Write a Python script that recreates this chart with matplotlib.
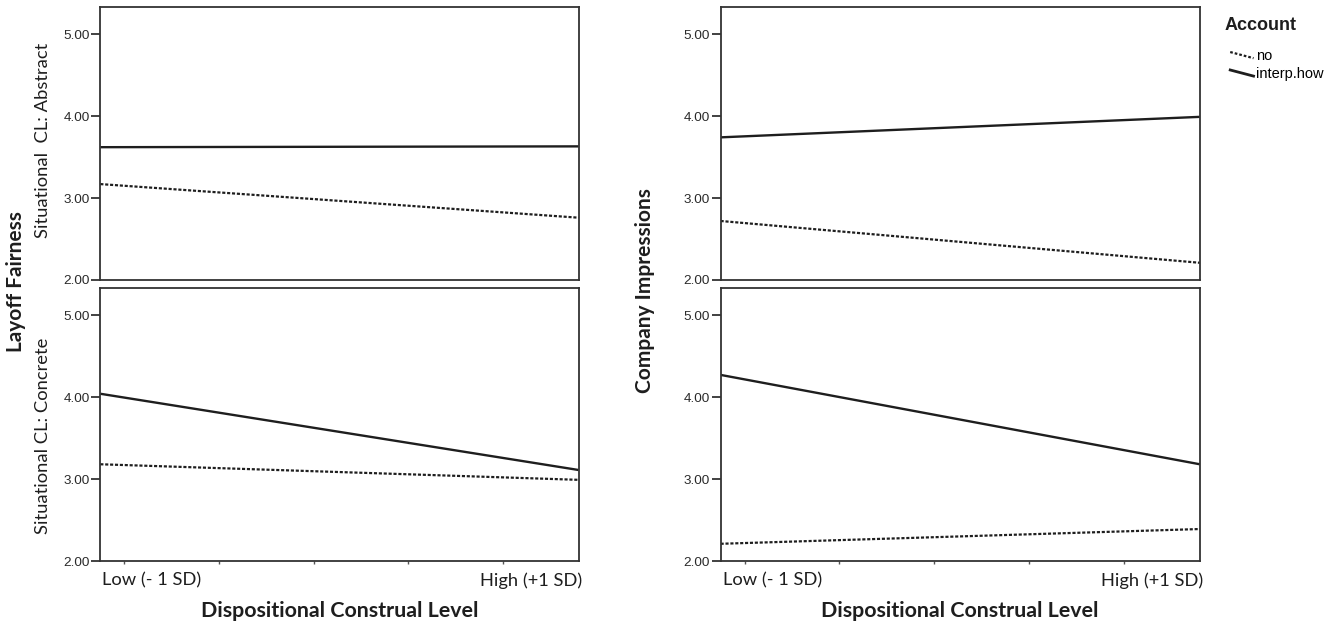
import matplotlib
matplotlib.use("Agg")
import matplotlib.pyplot as plt
from matplotlib.lines import Line2D
from matplotlib.legend_handler import HandlerLine2D

# data: value at the left and right end of each line
disp_level = [0.0, 1.0]
level_labels = ["Low (- 1 SD)", "High (+1 SD)"]
level_label_pos = [0.108, 0.901]
minor_ticks = [0.05, 0.248, 0.446, 0.644, 0.842]

account_labels = ["no", "interp.how"]

fair_abstract_no = [3.17, 2.76]
fair_abstract_how = [3.62, 3.63]
fair_concrete_no = [3.18, 2.99]
fair_concrete_how = [4.04, 3.11]

comp_abstract_no = [2.72, 2.21]
comp_abstract_how = [3.74, 3.99]
comp_concrete_no = [2.21, 2.39]
comp_concrete_how = [4.27, 3.18]

y_ticks = [2.0, 3.0, 4.0, 5.0]

W, H = 1337, 626
CAL = ["Lato", "DejaVu Sans"]
ARI = ["Liberation Sans", "DejaVu Sans"]
DOT = (0, (1.4, 0.8))
INK = "#1e1e1e"


def fx(px):
    return px / W


def fy(py):
    return 1 - py / H


def make_ax(fig, left, top, right, bottom):
    return fig.add_axes([fx(left), fy(bottom), fx(right - left), (bottom - top) / H])


class SlantHandler(HandlerLine2D):
    # SPSS style legend sample: short line going down to the right
    def create_artists(self, legend, orig_handle, xdescent, ydescent,
                       width, height, fontsize, trans):
        line = Line2D([-xdescent, width - xdescent],
                      [height * 0.8 - ydescent, height * 0.2 - ydescent])
        self.update_prop(line, orig_handle, legend)
        line.set_transform(trans)
        return [line]


def style_ax(ax, bottom_row):
    ax.set_xlim(0, 1)
    ax.set_ylim(2.0, 5.33)
    ax.set_yticks(y_ticks)
    ax.set_yticklabels([f"{v:.2f}" for v in y_ticks], family=ARI, fontsize=9.7, color="#2a2a2a")
    ax.tick_params(axis="y", length=6.5, width=1.3, color="#333333", pad=1)
    for s in ax.spines.values():
        s.set_linewidth(1.3)
        s.set_color("#333333")
    if bottom_row:
        ax.set_xticks(level_label_pos)
        ax.set_xticklabels(level_labels, family=CAL, fontsize=13.2, color=INK)
        ax.tick_params(axis="x", length=0, pad=8)
        ax.set_xticks(minor_ticks, minor=True)
        ax.tick_params(axis="x", which="minor", length=2, width=1.0, color="#555555")
    else:
        ax.set_xticks([])


def draw(ax, no_vals, how_vals):
    ax.plot(disp_level, no_vals, color=INK, lw=1.6, linestyle=DOT)
    ax.plot(disp_level, how_vals, color=INK, lw=1.7, solid_capstyle="butt")


fig = plt.figure(figsize=(W / 100, H / 100), dpi=100)

ax_tl = make_ax(fig, 100.3, 7, 578.6, 280)
ax_bl = make_ax(fig, 100.3, 288, 578.6, 561)
ax_tr = make_ax(fig, 720.6, 7, 1199.8, 280)
ax_br = make_ax(fig, 720.6, 288, 1199.8, 561)

draw(ax_tl, fair_abstract_no, fair_abstract_how)
draw(ax_bl, fair_concrete_no, fair_concrete_how)
draw(ax_tr, comp_abstract_no, comp_abstract_how)
draw(ax_br, comp_concrete_no, comp_concrete_how)

for a, bot in [(ax_tl, False), (ax_bl, True), (ax_tr, False), (ax_br, True)]:
    style_ax(a, bot)

# axis titles
fig.text(fx(16), fy(282), "Layoff Fairness", rotation=90, ha="center", va="center",
         family=CAL, fontsize=15, fontweight="bold", color=INK)
fig.text(fx(645), fy(291), "Company Impressions", rotation=90, ha="center", va="center",
         family=CAL, fontsize=15, fontweight="bold", color=INK)
fig.text(fx(43), fy(140), "Situational  CL: Abstract", rotation=90, ha="center", va="center",
         family=CAL, fontsize=13.2, color=INK)
fig.text(fx(43), fy(436), "Situational CL: Concrete", rotation=90, ha="center", va="center",
         family=CAL, fontsize=13.2, color=INK)
fig.text(fx(339.5), fy(611), "Dispositional Construal Level", ha="center", va="center",
         family=CAL, fontsize=15.4, fontweight="bold", color=INK)
fig.text(fx(960), fy(611), "Dispositional Construal Level", ha="center", va="center",
         family=CAL, fontsize=15.4, fontweight="bold", color=INK)

# legend
fig.text(fx(1225), fy(26), "Account", ha="left", va="center",
         family=ARI, fontsize=13, fontweight="bold", color=INK)
h_no = Line2D([], [], color=INK, lw=1.6, linestyle=(0, (1.2, 0.9)))
h_how = Line2D([], [], color=INK, lw=2.0)
leg = fig.legend([h_no, h_how], account_labels,
                 loc="upper left", bbox_to_anchor=(fx(1220), fy(39)),
                 frameon=False, prop={"family": ARI, "size": 10.5},
                 handlelength=1.6, handletextpad=0.2,
                 labelspacing=0.27, borderpad=0.2,
                 handler_map={Line2D: SlantHandler()})

fig.savefig("out.png", dpi=100)
